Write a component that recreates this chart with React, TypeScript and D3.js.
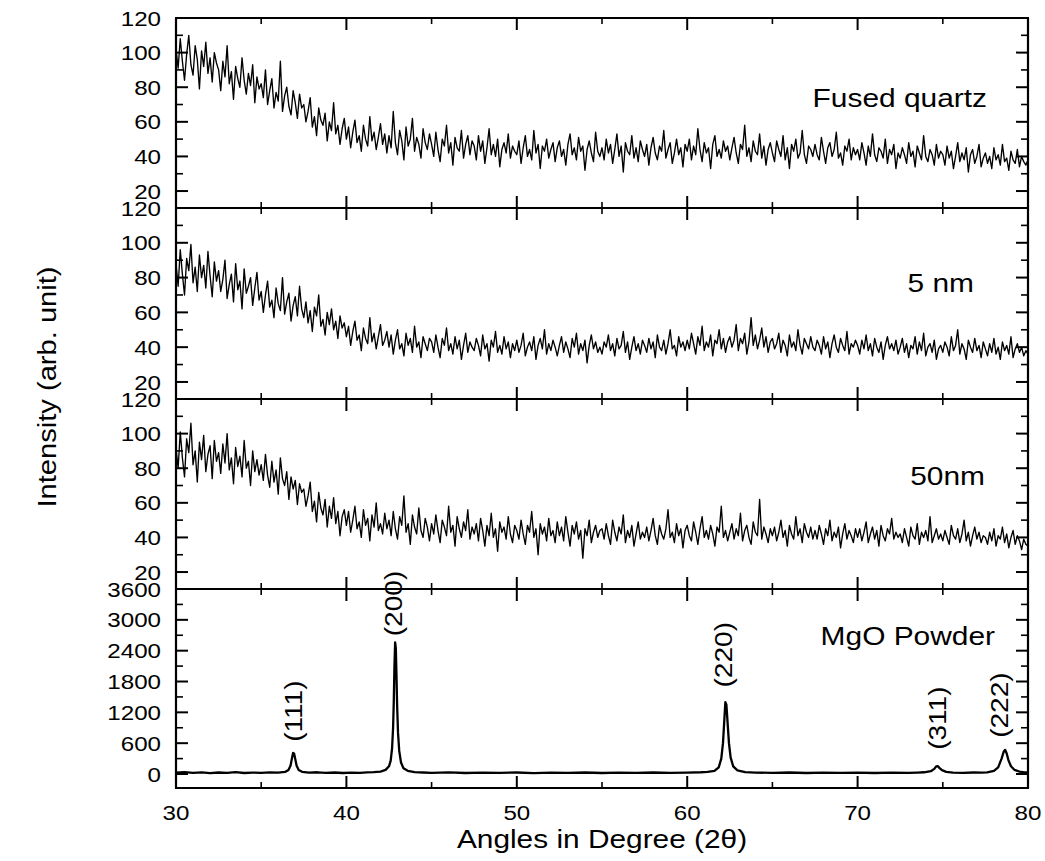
import React, { useEffect, useRef } from "react";
import * as d3 from "d3";

// x axis (2 theta, degrees)
const xMajor = [30, 40, 50, 60, 70, 80];
const xMinor = [35, 45, 55, 65, 75];

// film panels share the same intensity ticks
const filmTicks = [20, 40, 60, 80, 100, 120];
const filmMinor = [30, 50, 70, 90, 110];
const mgoTicks = [0, 600, 1200, 1800, 2400, 3000, 3600];
const mgoMinor = [300, 900, 1500, 2100, 2700, 3300];

const panelLabels = ["Fused quartz", "5 nm", "50nm", "MgO Powder"];

const fusedQuartz = [
  102, 91, 108, 95, 84, 99, 110, 93, 87, 104, 96, 79, 101, 92, 106, 88, 97, 83, 100, 94,
  90, 78, 95, 86, 104, 82, 89, 73, 92, 85, 80, 97, 84, 76, 88, 81, 93, 71, 86, 79,
  82, 74, 90, 70, 78, 85, 68, 77, 72, 95, 66, 75, 80, 69, 64, 78, 71, 62, 76, 68,
  70, 60, 66, 74, 57, 63, 52, 68, 61, 58, 65, 49, 60, 55, 71, 53, 58, 47, 56, 62,
  50, 57, 45, 54, 61, 48, 52, 43, 58, 50, 46, 63, 49, 54, 44, 51, 59, 47, 53, 42,
  52, 45, 66, 48, 41, 55, 49, 38, 57, 46, 50, 62, 43, 51, 47, 39, 56, 48, 44, 53,
  47, 40, 54, 44, 37, 50, 46, 58, 42, 48, 35, 51, 45, 43, 55, 39, 47, 52, 41, 49,
  46, 38, 52, 43, 49, 36, 45, 56, 41, 47, 40, 50, 34, 44, 48, 42, 53, 39, 46, 43,
  41, 49, 36, 45, 52, 40, 44, 38, 55, 42, 47, 33, 46, 43, 50, 39, 44, 48, 37, 45,
  49, 40, 44, 35, 47, 53, 41, 45, 38, 51, 43, 46, 32, 44, 49, 42, 37, 54, 43, 40,
  45, 38, 50, 42, 47, 36, 44, 53, 40, 46, 31, 48, 43, 41, 52, 39, 45, 37, 49, 44,
  40, 47, 35, 45, 51, 42, 38, 46, 43, 55, 39, 44, 48, 36, 42, 50, 41, 45, 34, 47,
  43, 50, 38, 46, 41, 56, 44, 37, 48, 42, 45, 33, 47, 52, 40, 44, 39, 49, 43, 46,
  38, 45, 51, 42, 36, 47, 44, 58, 40, 45, 37, 49, 43, 41, 53, 39, 46, 35, 44, 48,
  42, 37, 49, 44, 40, 52, 38, 45, 33, 47, 43, 50, 39, 42, 55, 41, 36, 46, 44, 40,
  47, 41, 38, 51, 43, 36, 45, 48, 40, 44, 54, 39, 42, 35, 46, 43, 50, 38, 45, 41,
  44, 38, 48, 42, 35, 46, 40, 53, 41, 37, 45, 43, 39, 50, 36, 44, 41, 47, 33, 42,
  39, 45, 41, 36, 48, 40, 43, 34, 46, 42, 38, 52, 40, 37, 44, 41, 35, 47, 39, 43,
  41, 35, 46, 39, 43, 33, 40, 48, 37, 42, 38, 45, 31, 41, 44, 36, 40, 47, 34, 39,
  42, 36, 40, 33, 45, 38, 41, 35, 47, 37, 39, 32, 43, 38, 36, 44, 34, 40, 37, 35,
  38,
];

const film5nm = [
  88, 75, 96, 82, 70, 91, 84, 99, 77, 86, 72, 93, 80, 87, 74, 95, 81, 69, 89, 78,
  84, 72, 79, 90, 68, 76, 82, 66, 88, 73, 78, 62, 85, 71, 75, 80, 64, 74, 83, 67,
  72, 60, 70, 78, 63, 67, 57, 74, 65, 61, 80, 59, 66, 71, 55, 64, 69, 58, 75, 62,
  57, 66, 54, 61, 49, 63, 58, 70, 52, 56, 47, 60, 53, 62, 50, 55, 45, 58, 51, 54,
  46, 52, 41, 49, 55, 44, 47, 38, 51, 45, 42, 57, 43, 48, 39, 46, 53, 41, 44, 49,
  40, 47, 36, 44, 50, 39, 42, 35, 48, 41, 45, 37, 52, 40, 43, 34, 46, 42, 38, 45,
  43, 37, 47, 40, 34, 45, 41, 51, 38, 42, 36, 46, 39, 44, 33, 41, 48, 37, 43, 40,
  38, 45, 41, 35, 47, 39, 42, 32, 44, 40, 49, 37, 41, 36, 46, 39, 43, 34, 42, 38,
  44, 37, 41, 48, 35, 40, 43, 38, 46, 33, 41, 45, 39, 50, 36, 42, 38, 44, 40, 35,
  41, 46, 37, 43, 39, 34, 45, 40, 48, 36, 42, 38, 44, 31, 41, 47, 39, 43, 37, 40,
  36, 43, 40, 47, 38, 42, 35, 45, 39, 41, 49, 37, 43, 33, 40, 46, 38, 42, 36, 44,
  41, 37, 45, 39, 43, 34, 47, 40, 38, 44, 36, 42, 50, 39, 41, 35, 46, 40, 43, 38,
  44, 39, 48, 42, 36, 46, 41, 52, 38, 43, 40, 47, 35, 44, 42, 50, 39, 45, 37, 43,
  46, 40, 44, 53, 38, 45, 42, 48, 36, 43, 57, 41, 47, 39, 44, 51, 40, 46, 37, 43,
  45, 39, 42, 48, 37, 44, 41, 35, 47, 40, 43, 38, 50, 41, 36, 45, 42, 39, 46, 40,
  38, 44, 41, 36, 46, 39, 43, 34, 42, 47, 40, 37, 45, 41, 38, 49, 36, 42, 40, 44,
  41, 36, 44, 39, 47, 38, 42, 35, 45, 40, 37, 43, 33, 41, 46, 39, 42, 38, 44, 36,
  40, 45, 37, 42, 34, 41, 39, 46, 36, 43, 38, 48, 35, 40, 42, 37, 44, 33, 39, 41,
  37, 43, 40, 35, 46, 38, 41, 50, 36, 42, 39, 33, 44, 40, 37, 45, 38, 41, 34, 43,
  39, 35, 42, 37, 45, 36, 40, 33, 43, 38, 41, 36, 46, 34, 39, 42, 37, 40, 35, 38,
  36,
];

const film50nm = [
  92, 80, 101, 86, 75, 97, 89, 106, 82, 90, 72, 95, 85, 99, 78, 88, 93, 74, 96, 84,
  89, 77, 94, 83, 100, 79, 86, 71, 92, 81, 87, 75, 96, 80, 84, 70, 90, 78, 85, 76,
  82, 73, 88, 76, 69, 84, 72, 79, 65, 86, 74, 70, 78, 62, 75, 68, 73, 59, 71, 66,
  68, 58, 64, 72, 55, 61, 49, 66, 57, 53, 62, 46, 58, 51, 63, 48, 55, 41, 52, 56,
  47, 55, 43, 50, 58, 45, 49, 40, 56, 47, 51, 38, 53, 46, 60, 44, 48, 42, 54, 45,
  50, 41, 55, 45, 39, 52, 47, 64, 43, 48, 36, 53, 46, 42, 57, 44, 40, 51, 46, 38,
  48, 42, 53, 44, 37, 50, 46, 41, 58, 43, 47, 35, 52, 45, 40, 49, 44, 56, 39, 46,
  42, 48, 38, 51, 44, 35, 47, 41, 54, 40, 45, 32, 49, 43, 46, 39, 52, 42, 37, 47,
  44, 39, 50, 42, 36, 47, 43, 55, 40, 45, 30, 48, 42, 46, 38, 51, 41, 44, 37, 49,
  41, 46, 38, 52, 43, 35, 47, 42, 49, 39, 44, 28, 45, 41, 50, 37, 43, 47, 40, 44,
  45, 39, 48, 41, 36, 50, 43, 38, 46, 42, 53, 37, 44, 40, 47, 35, 42, 49, 39, 43,
  40, 46, 38, 44, 51, 41, 36, 47, 42, 39, 45, 56, 40, 43, 37, 48, 41, 45, 34, 44,
  47, 41, 38, 49, 43, 36, 45, 52, 40, 44, 39, 47, 42, 35, 46, 43, 58, 40, 44, 38,
  43, 48, 39, 45, 41, 54, 38, 44, 47, 40, 36, 49, 43, 41, 62, 39, 46, 42, 37, 45,
  41, 46, 38, 43, 50, 40, 44, 35, 47, 42, 39, 52, 41, 45, 37, 48, 43, 40, 46, 39,
  44, 39, 47, 42, 36, 45, 41, 50, 38, 43, 40, 46, 34, 42, 48, 39, 44, 41, 37, 45,
  40, 45, 38, 43, 49, 37, 42, 46, 39, 44, 35, 47, 41, 38, 45, 42, 51, 39, 43, 40,
  42, 37, 45, 40, 35, 46, 41, 39, 48, 36, 43, 40, 44, 38, 52, 37, 41, 45, 39, 42,
  38, 44, 40, 36, 47, 41, 39, 45, 37, 42, 50, 38, 43, 35, 41, 46, 39, 43, 37, 41,
  40, 36, 43, 38, 45, 35, 41, 39, 46, 37, 42, 34, 40, 44, 36, 41, 38, 33, 39, 36,
  35,
];

// MgO powder: [angle, counts]
const mgoScan: [number, number][] = [
  [30.0, 25], [30.5, 38], [31.0, 22], [31.5, 34], [32.0, 18], [32.5, 30], [33.0, 24],
  [33.5, 36], [34.0, 20], [34.5, 28], [35.0, 22], [35.5, 32], [36.0, 26], [36.4, 40],
  [36.6, 80], [36.72, 160], [36.8, 300], [36.87, 410], [36.93, 400], [37.0, 290],
  [37.08, 160], [37.2, 80], [37.4, 42], [37.8, 28], [38.3, 34], [38.8, 22], [39.3, 30],
  [39.8, 20], [40.3, 28], [40.8, 24], [41.2, 32], [41.6, 38], [42.0, 48], [42.3, 80],
  [42.5, 150], [42.6, 260], [42.68, 500], [42.74, 900], [42.78, 1400], [42.82, 2100],
  [42.86, 2560], [42.9, 2450], [42.94, 1900], [42.98, 1300], [43.03, 800], [43.1, 450],
  [43.2, 230], [43.35, 110], [43.6, 62], [44.0, 38], [44.5, 30], [45.0, 24], [46.0, 32],
  [47.0, 20], [48.0, 28], [49.0, 22], [50.0, 30], [51.0, 18], [52.0, 26], [53.0, 22],
  [54.0, 30], [55.0, 20], [56.0, 28], [57.0, 24], [58.0, 30], [59.0, 22], [60.0, 28],
  [60.8, 34], [61.2, 40], [61.6, 62], [61.85, 130], [62.0, 300], [62.1, 600],
  [62.17, 1000], [62.24, 1400], [62.3, 1350], [62.37, 1000], [62.45, 600], [62.55, 320],
  [62.7, 150], [62.95, 72], [63.4, 38], [64.0, 28], [65.0, 22], [66.0, 30], [67.0, 20],
  [68.0, 26], [69.0, 22], [70.0, 28], [71.0, 20], [72.0, 26], [73.0, 22], [73.5, 28],
  [73.9, 34], [74.3, 55], [74.5, 100], [74.62, 150], [74.7, 155], [74.8, 120],
  [74.95, 75], [75.2, 42], [75.6, 28], [76.2, 24], [76.8, 30], [77.3, 26], [77.6, 34],
  [78.0, 62], [78.25, 130], [78.45, 300], [78.58, 440], [78.66, 470], [78.75, 400],
  [78.85, 270], [79.0, 150], [79.2, 82], [79.5, 48], [79.8, 34], [80.0, 30],
];

const peakNames = ["(111)", "(200)", "(220)", "(311)", "(222)"];
const peakAngles = [36.9, 42.75, 62.15, 74.7, 78.3];

const FONT = "'Liberation Sans', Arial, Helvetica, sans-serif";
const K = 1.15; // glyphs in the figure are wider than Arial

export default function App() {
  const ref = useRef<SVGSVGElement>(null);

  useEffect(() => {
    const svg = d3.select(ref.current);
    svg.selectAll("*").remove();

    const left = 176, right = 1028;
    const x = d3.scaleLinear().domain([30, 80]).range([left, right]);

    const text = (txt: string, px: number, py: number, size: number, anchor: string, rot = false, k = K, dy = "0") =>
      svg
        .append("text")
        .attr("transform", `translate(${px},${py})${rot ? " rotate(-90)" : ""} scale(${k},1)`)
        .attr("text-anchor", anchor)
        .attr("dy", dy)
        .attr("font-family", FONT)
        .attr("font-size", size)
        .attr("fill", "#000")
        .text(txt);

    const films = [fusedQuartz, film5nm, film50nm];
    const tops = [18, 208, 399, 589];
    const bottoms = [208, 399, 589, 788];
    // label right end + baseline
    const labelPos = [[987, 107], [974, 292], [985, 485], [995, 645]];

    const defs = svg.append("defs");

    tops.forEach((top, p) => {
      const bottom = bottoms[p];
      const isMgo = p === 3;
      const y = d3
        .scaleLinear()
        .domain(isMgo ? [-272, 3600] : [10.2, 120])
        .range([bottom, top]);

      defs
        .append("clipPath")
        .attr("id", "clip" + p)
        .append("rect")
        .attr("x", left)
        .attr("y", top)
        .attr("width", right - left)
        .attr("height", bottom - top);

      if (!isMgo) {
        const vals = films[p];
        const step = 50 / (vals.length - 1);
        svg
          .append("path")
          .datum(vals)
          .attr("clip-path", `url(#clip${p})`)
          .attr("fill", "none")
          .attr("stroke", "#000")
          .attr("stroke-width", 1.35)
          .attr("stroke-linejoin", "round")
          .attr(
            "d",
            d3
              .line<number>()
              .x((d, i) => x(30 + i * step))
              .y((d) => y(d))
          );
      } else {
        svg
          .append("path")
          .datum(mgoScan)
          .attr("clip-path", `url(#clip${p})`)
          .attr("fill", "none")
          .attr("stroke", "#000")
          .attr("stroke-width", 2.3)
          .attr("stroke-linejoin", "round")
          .attr(
            "d",
            d3
              .line<[number, number]>()
              .x((d) => x(d[0]))
              .y((d) => y(d[1]))
          );
      }

      // y ticks, inward on both sides
      const major = isMgo ? mgoTicks : filmTicks;
      const minor = isMgo ? mgoMinor : filmMinor;
      const tk = svg.append("g").attr("stroke", "#000");
      major.forEach((v) => {
        const yy = y(v);
        tk.append("line").attr("x1", left).attr("x2", left + 12).attr("y1", yy).attr("y2", yy).attr("stroke-width", 2);
        tk.append("line").attr("x1", right).attr("x2", right - 12).attr("y1", yy).attr("y2", yy).attr("stroke-width", 2);
        text(String(v), 161, yy, 21, "end", false, K, "0.36em");
      });
      minor.forEach((v) => {
        const yy = y(v);
        tk.append("line").attr("x1", left).attr("x2", left + 7).attr("y1", yy).attr("y2", yy).attr("stroke-width", 1.6);
        tk.append("line").attr("x1", right).attr("x2", right - 7).attr("y1", yy).attr("y2", yy).attr("stroke-width", 1.6);
      });

      text(panelLabels[p], labelPos[p][0], labelPos[p][1], 26, "end");

      if (isMgo) {
        // peak labels, bottom edge in counts
        const labelBase = [626, 2680, 1683, 470, 704];
        peakNames.forEach((n, i) => {
          text(n, x(peakAngles[i]), y(labelBase[i]), 24, "start", true, 1.17, "0.36em");
        });
      }
    });

    // frame and panel separators
    const fr = svg.append("g").attr("stroke", "#000").attr("stroke-width", 2.2);
    fr.append("line").attr("x1", left).attr("x2", left).attr("y1", 18).attr("y2", 788);
    fr.append("line").attr("x1", right).attr("x2", right).attr("y1", 18).attr("y2", 788);
    [18, 208, 399, 589, 788].forEach((yy) => {
      fr.append("line").attr("x1", left - 1).attr("x2", right + 1).attr("y1", yy).attr("y2", yy);
    });

    // x ticks: inward at top/bottom, crossing at separators
    const xt = svg.append("g").attr("stroke", "#000");
    const tickAt = (v: number, len: number, w: number) => {
      const xx = x(v);
      xt.append("line").attr("x1", xx).attr("x2", xx).attr("y1", 18).attr("y2", 18 + len).attr("stroke-width", w);
      xt.append("line").attr("x1", xx).attr("x2", xx).attr("y1", 788).attr("y2", 788 - len).attr("stroke-width", w);
      [208, 399, 589].forEach((yy) => {
        xt.append("line").attr("x1", xx).attr("x2", xx).attr("y1", yy - len).attr("y2", yy + len).attr("stroke-width", w);
      });
    };
    xMajor.forEach((v) => tickAt(v, 12, 2));
    xMinor.forEach((v) => tickAt(v, 6, 1.6));

    xMajor.forEach((v) => text(String(v), x(v), 820, 21, "middle"));

    text("Angles in Degree (2\u03b8)", (left + right) / 2, 848, 25.5, "middle", false, 1.17);
    text("Intensity (arb. unit)", 47, 387, 26, "middle", true, 1.12, "0.36em");
  }, []);

  return (
    <svg
      ref={ref}
      width={1045}
      height={861}
      style={{ position: "absolute", left: 0, top: 0, background: "#fff", display: "block" }}
    />
  );
}
